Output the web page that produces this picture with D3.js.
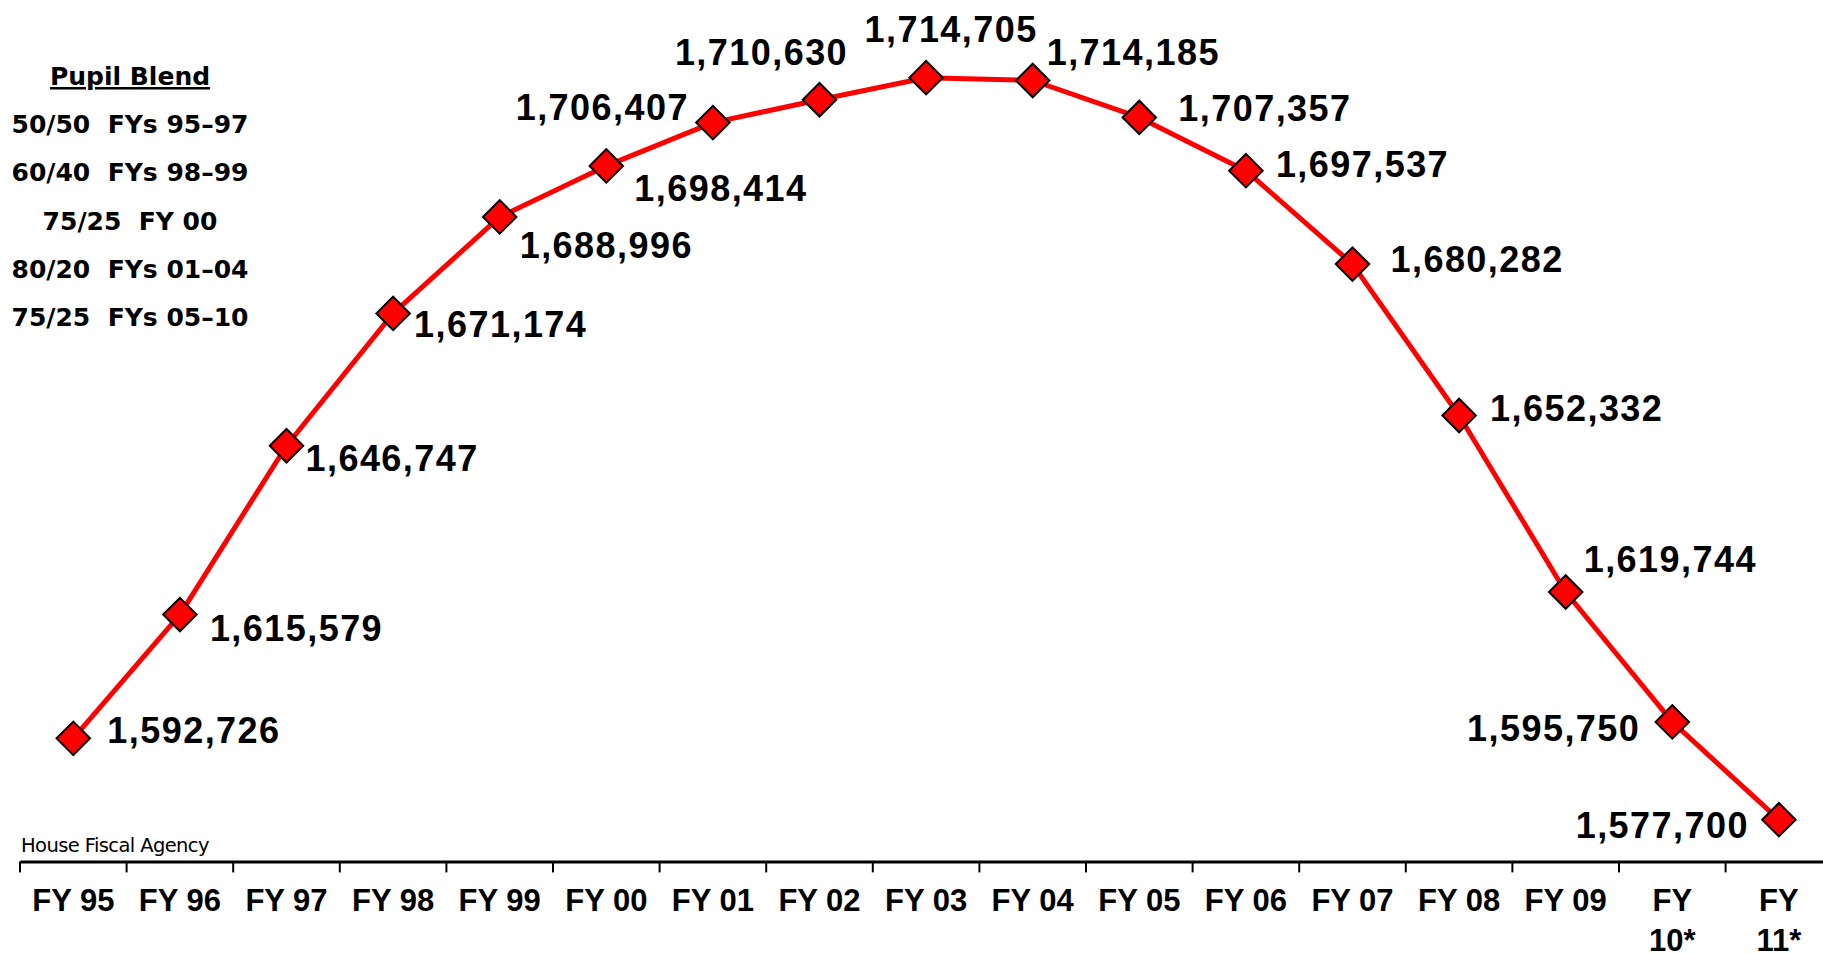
<!DOCTYPE html>
<html>
<head>
<meta charset="utf-8">
<script src="https://cdn.jsdelivr.net/npm/d3@7"></script>
<style>
  body { margin: 0; background: #fff; }
  svg { display: block; }
  .value { font-family: "Liberation Sans", Arial, sans-serif; font-weight: bold; font-size: 36px; letter-spacing: 1.45px; fill: #000; }
  .tick-label { font-family: "Liberation Sans", Arial, sans-serif; font-weight: bold; font-size: 31px; fill: #000; }
  .blend { font-family: "DejaVu Sans", Verdana, sans-serif; font-weight: bold; font-size: 25px; fill: #000; white-space: pre; }
  .source { font-family: "DejaVu Sans", Tahoma, sans-serif; font-size: 19.5px; letter-spacing: -0.6px; fill: #000; }
</style>
</head>
<body>
<div id="chart"></div>
<script>
var years = ["FY 95", "FY 96", "FY 97", "FY 98", "FY 99", "FY 00", "FY 01", "FY 02",
  "FY 03", "FY 04", "FY 05", "FY 06", "FY 07", "FY 08", "FY 09", "FY 10*", "FY 11*"];

var pupils = [1592726, 1615579, 1646747, 1671174, 1688996, 1698414, 1706407, 1710630,
  1714705, 1714185, 1707357, 1697537, 1680282, 1652332, 1619744, 1595750, 1577700];

var blendTitle = "Pupil Blend";
var blendLines = ["50/50  FYs 95\u201397", "60/40  FYs 98\u201399", "75/25  FY 00",
  "80/20  FYs 01\u201304", "75/25  FYs 05\u201310"];

var sourceNote = "House Fiscal Agency";

// where each value label sits relative to its marker: [dx, dy, anchor]
var labelPlacement = [
  [34, 5, "start"], [30, 26, "start"], [19, 25, "start"], [21, 24, "start"],
  [20, 41, "start"], [28, 35, "start"], [-24, -3, "end"], [-58, -35, "middle"],
  [25, -36, "middle"], [14, -15, "start"], [39, 4, "start"], [30, 6, "start"],
  [38, 8, "start"], [31, 6, "start"], [18, -20, "start"], [-32, 19, "end"],
  [-30, 18, "end"]
];

var width = 1823;
var height = 954;

var svg = d3.select("#chart")
  .append("svg")
  .attr("width", width)
  .attr("height", height);

var x = d3.scaleBand()
  .domain(years)
  .range([20, 20 + 17 * 106.6]);

var y = d3.scaleLinear()
  .domain([1570000, 1720000])
  .range([861.4, 49]);

var points = years.map((d, i) => ({ year: d, value: pupils[i], place: labelPlacement[i] }));

// x axis, ticks between the categories
var axis = d3.axisBottom(x)
  .tickSize(11)
  .tickSizeOuter(0)
  .tickFormat("");

var gx = svg.append("g")
  .attr("transform", "translate(0," + y(1570000) + ")")
  .call(axis);

gx.select(".domain")
  .attr("stroke", "#000")
  .attr("stroke-width", 3);

gx.selectAll(".tick line")
  .attr("x1", -x.step() / 2)
  .attr("x2", -x.step() / 2)
  .attr("stroke", "#000")
  .attr("stroke-width", 2);

gx.selectAll(".tick").append("text")
  .attr("class", "tick-label")
  .attr("text-anchor", "middle")
  .attr("y", 50)
  .each(function(d) {
    var parts = d.indexOf("*") > -1 ? d.split(" ") : [d];
    var t = d3.select(this);
    parts.forEach((p, i) => {
      t.append("tspan").attr("x", 0).attr("dy", i == 0 ? 0 : 40).text(p);
    });
  });

// line
var line = d3.line()
  .x(d => x(d.year) + x.bandwidth() / 2)
  .y(d => y(d.value));

svg.append("path")
  .datum(points)
  .attr("fill", "none")
  .attr("stroke", "#ff0000")
  .attr("stroke-width", 5)
  .attr("stroke-linejoin", "round")
  .attr("d", line);

// diamond markers
svg.append("g")
  .selectAll("path")
  .data(points)
  .enter().append("path")
  .attr("d", d3.symbol(d3.symbolSquare, 560))
  .attr("transform", d => "translate(" + (x(d.year) + x.bandwidth() / 2) + "," + y(d.value) + ") rotate(45)")
  .attr("fill", "#ff0000")
  .attr("stroke", "#000")
  .attr("stroke-width", 2);

// value labels
svg.append("g")
  .selectAll("text")
  .data(points)
  .enter().append("text")
  .attr("class", "value")
  .attr("x", d => x(d.year) + x.bandwidth() / 2 + d.place[0])
  .attr("y", d => y(d.value) + d.place[1])
  .attr("text-anchor", d => d.place[2])
  .text(d => d3.format(",")(d.value));

// pupil blend note
var legend = svg.append("g")
  .attr("transform", "translate(130,0)");

legend.append("text")
  .attr("class", "blend")
  .attr("text-anchor", "middle")
  .attr("y", 85)
  .style("text-decoration", "underline")
  .text(blendTitle);

legend.selectAll(".line")
  .data(blendLines)
  .enter().append("text")
  .attr("class", "blend line")
  .attr("text-anchor", "middle")
  .attr("y", (d, i) => 133 + i * 48.3)
  .text(d => d);

svg.append("text")
  .attr("class", "source")
  .attr("x", 21)
  .attr("y", 852)
  .text(sourceNote);
</script>
</body>
</html>
